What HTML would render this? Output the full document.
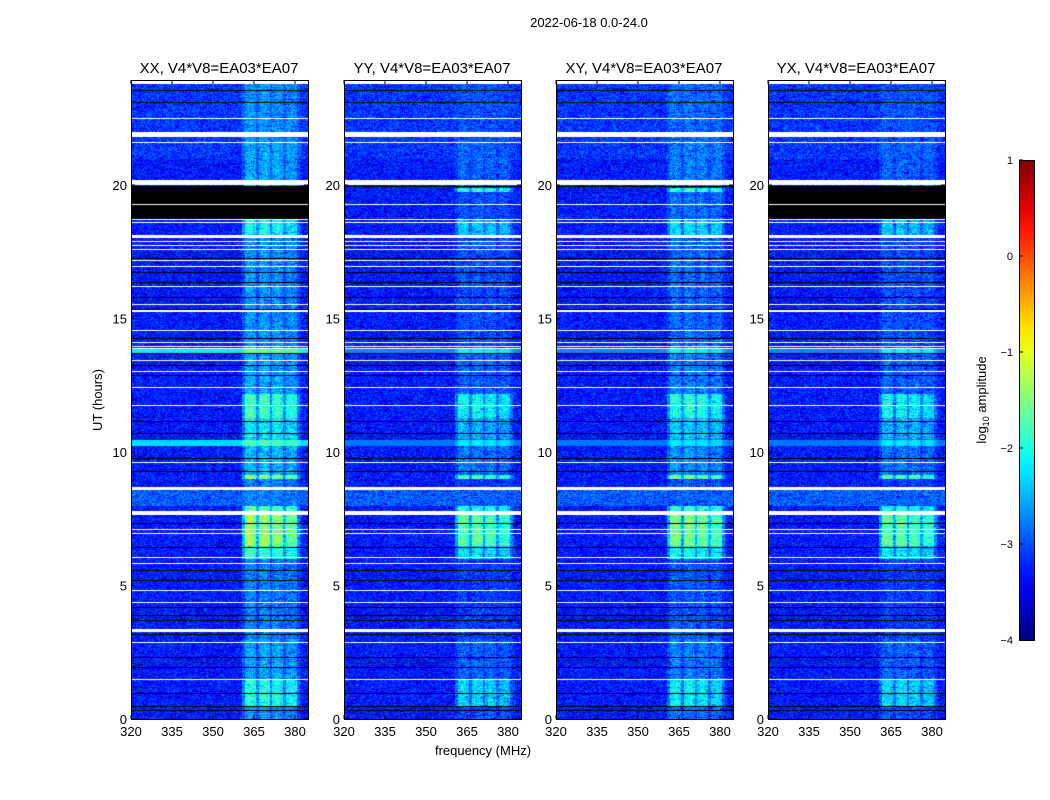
<!DOCTYPE html>
<html><head><meta charset="utf-8"><style>
body{margin:0;background:#fff;width:1050px;height:800px;overflow:hidden;position:relative;font-family:"Liberation Sans",sans-serif;}
.t{position:absolute;font-size:13px;color:#000;white-space:nowrap}
canvas{position:absolute}
</style></head><body>
<div class="t" style="left:0;width:1178px;text-align:center;top:15px;font-size:13px">2022-06-18 0.0-24.0</div>
<svg id="svg" width="1050" height="800" style="position:absolute;left:0;top:0"></svg>
<script>
// ---- data ----
const panelNames = ["XX","YY","XY","YX"];
const panelLeft = [131,344,556,768];
const panelGain = [0,-0.35,-0.2,-0.35];
const colProfile = [0,0,0,0,0,0,0,0,0,0,0,0,0,0,0,0,0,0,0,0,0,0,0,0,0,0,0,0,0,0,0,0,0,0,0,0,0,0,0,0,0,0.45,0.95,1,1,0.9,0.45,0.9,1,1,0.9,0.45,0.85,0.95,0.95,0.85,0.45,0.8,0.85,0.85,0.8,0.35,0.1,0,0,0];
const rfiStart = [0,0.5,1.5,3,6,6.5,7.8,8,9.0,9.15,10.5,11.3,12.2,14,18.1,18.7,19.75,20,21.6];
const rfiEnd   = [0.5,1.5,3,6,6.5,7.8,8,9.0,9.15,10.5,11.3,12.2,14,18.1,18.7,19.75,19.9,21.6,24];
const rfiVal   = [-2.6,-1.9,-2.5,-2.7,-1.8,-1.25,-1.6,-2.7,-1.3,-2.4,-2.1,-1.7,-2.5,-2.6,-2.0,-2.6,-1.5,-2.5,-2.6];
const bgLevel = -3.25;
const whiteTimes = [22.5,21.9,21.6,20.1,19.3,18.72,18.63,18.1,17.9,17.75,17.6,17.2,16.98,16.2,15.55,15.3,14.57,14.12,13.98,13.9,13.45,13.03,12.45,11.76,9.62,8.65,7.72,7.1,6.96,6.08,5.83,4.83,4.37,3.33,2.88,1.5];
const whiteWidths = [0.05,0.2,0.05,0.18,0.04,0.04,0.04,0.1,0.04,0.04,0.04,0.04,0.04,0.04,0.04,0.04,0.04,0.04,0.04,0.04,0.04,0.04,0.04,0.04,0.04,0.12,0.15,0.04,0.04,0.04,0.04,0.04,0.04,0.1,0.04,0.04];
const blackTimes = [23.55,23.1,19.95,17.28,16.75,16.37,15.8,15.35,14.27,13.72,13.25,12.9,11.17,10.7,9.77,9.3,7.34,6.45,5.58,5.2,4.2,3.9,3.7,3.2,2.33,1.96,0.97,0.49,0.34];
const blackBlockPanels = [true,false,false,true];
const hotRowTimes = [13.8,10.36];
const hotRowVals = [-2.2,-2.3];
const cbTicks = [1,0,-1,-2,-3,-4];
const xTicks = [320,335,350,365,380];
const yTicks = [0,5,10,15,20];

// ---- scales ----
const yTop=80, yBot=719, pxPerHour=26.7;
const yOf = h => yBot - h*pxPerHour;
const pxPerMHz = 164/60;
function jet(v){
  const f=x=>Math.max(0,Math.min(1,x));
  return [f(1.5-Math.abs(4*v-3)),f(1.5-Math.abs(4*v-2)),f(1.5-Math.abs(4*v-1))].map(c=>Math.round(c*255));
}
function hash(a,b,c){let h=(a*374761393+b*668265263+c*2147483647)|0;h=(h^(h>>>13))*1274126177|0;return ((h^(h>>>16))>>>0)/4294967296;}
function rfiAt(h){for(let i=0;i<rfiStart.length;i++) if(h>=rfiStart[i]&&h<rfiEnd[i]) return rfiVal[i]; return bgLevel;}

const svg=document.getElementById('svg');
const NS="http://www.w3.org/2000/svg";
function mk(tag,attrs,name){const e=document.createElementNS(NS,tag);for(const k in attrs)e.setAttribute(k,attrs[k]);
  
  
  svg.appendChild(e);return e;}
function txt(x,y,s,name,anchor,size){const e=mk('text',{x:x,y:y,'font-size':size||13,'text-anchor':anchor||'middle','font-family':'Liberation Sans, sans-serif'},name);e.textContent=s;return e;}

panelNames.forEach((pn,p)=>{
  const L=panelLeft[p], W=177, H=yBot-yTop;
  const cv=document.createElement('canvas');cv.width=W;cv.height=H;cv.style.left=L+'px';cv.style.top=yTop+'px';
  
  
  document.body.insertBefore(cv,svg);
  const ctx=cv.getContext('2d');const img=ctx.createImageData(W,H);
  for(let py=0;py<H;py++){
    const h=(yBot-(yTop+py))/pxPerHour;
    let rowState=0;
    if(h>23.82) rowState=1;
    for(let i=0;i<whiteTimes.length;i++) if(Math.abs(h-whiteTimes[i])<=Math.max(whiteWidths[i]/2,0.019)) rowState=1;
    if(!rowState){ for(const b of blackTimes) if(Math.abs(h-b)<0.02) rowState=2;
      if(blackBlockPanels[p] && h>18.76 && h<19.95 && Math.abs(h-19.3)>0.02) rowState=2; }
    let hot=null; for(let i=0;i<hotRowTimes.length;i++) if(Math.abs(h-hotRowTimes[i])<0.12) hot=hotRowVals[i]-(p?0.5:0);
    let rfi=rfiAt(h)+panelGain[p];
    if(h>19.7&&h<19.9&&blackBlockPanels[p]) rfi=-2.6;
    let bg=bgLevel+((h>8&&h<8.6)?0.35:0)+((h>21&&h<24)?0.15:0);
    for(let px=0;px<W;px++){
      const k=(py*W+px)*4;
      if(rowState===1){img.data[k]=img.data[k+1]=img.data[k+2]=255;img.data[k+3]=255;continue;}
      if(rowState===2){img.data[k]=img.data[k+1]=img.data[k+2]=0;img.data[k+3]=255;continue;}
      const f=320+px/pxPerMHz;
      const ci=Math.min(colProfile.length-1,Math.round(f-320));
      const cp=colProfile[ci];
      let v=bg+cp*(Math.max(rfi,bg)-bg)+(hash(px,py,p)-0.5)*0.75-(hash(px>>2,py,p+9)<0.12?0.3:0);
      if(hot!==null) v=Math.max(v,hot+(hash(px,py,p)-0.5)*0.2+cp*0.6);
      const c=jet(Math.max(0,Math.min(1,(v+4)/5)));
      img.data[k]=c[0];img.data[k+1]=c[1];img.data[k+2]=c[2];img.data[k+3]=255;
    }
  }
  ctx.putImageData(img,0,0);
  mk('rect',{x:L+0.5,y:yTop+0.5,width:W,height:H,fill:'none',stroke:'#000','stroke-width':1},'axes-frame-'+pn.toLowerCase());
  txt(L+88,73,pn+', V4*V8=EA03*EA07','panel-title-'+pn.toLowerCase(),'middle',15);
  xTicks.forEach(t=>{const x=L+(t-320)*pxPerMHz;
    mk('line',{x1:x,x2:x,y1:yBot,y2:yBot-4,stroke:'#000'},'x-tick');
    mk('line',{x1:x,x2:x,y1:yTop,y2:yTop+4,stroke:'#000'},'x-tick-top');
    txt(x,736,String(t),'x-tick-label');});
  yTicks.forEach(t=>{const y=yOf(t);
    mk('line',{x1:L,x2:L+4,y1:y,y2:y,stroke:'#000'},'y-tick');
    mk('line',{x1:L+W,x2:L+W-4,y1:y,y2:y,stroke:'#000'},'y-tick-right');
    txt(L-4,y+5,String(t),'y-tick-label','end');});
});
txt(483,755,'frequency (MHz)','x-axis-title');
const yt=txt(0,0,'UT (hours)','y-axis-title');yt.setAttribute('transform','translate(102,400) rotate(-90)');
const cbx=1019,cbw=15,cbTop=160,cbBot=640;
const cbg=document.createElementNS(NS,'linearGradient');cbg.setAttribute('id','jetg');cbg.setAttribute('x1','0');cbg.setAttribute('y1','1');cbg.setAttribute('x2','0');cbg.setAttribute('y2','0');
for(let i=0;i<=20;i++){const s=document.createElementNS(NS,'stop');const c=jet(i/20);s.setAttribute('offset',i/20);s.setAttribute('stop-color','rgb('+c.join(',')+')');cbg.appendChild(s);}
const defs=document.createElementNS(NS,'defs');defs.appendChild(cbg);svg.appendChild(defs);
mk('rect',{x:cbx+0.5,y:cbTop+0.5,width:cbw,height:cbBot-cbTop,fill:'url(#jetg)',stroke:'#000'},'colorbar');
cbTicks.forEach(t=>{const y=cbBot-(t+4)/5*(cbBot-cbTop);
  mk('line',{x1:cbx,x2:cbx+4,y1:y,y2:y,stroke:'#000'},'colorbar-tick');
  txt(1013,y+4,(t<0?'\u2212':'')+Math.abs(t),'colorbar-tick-label','end',11);});
const ct=mk('text',{x:0,y:0,'font-size':13,'text-anchor':'middle','font-family':'Liberation Sans, sans-serif',transform:'translate(986,400) rotate(-90)'},'colorbar-label');
ct.innerHTML='log<tspan font-size="9" dy="3">10</tspan><tspan dy="-3"> amplitude</tspan>';
</script>
</body></html>
